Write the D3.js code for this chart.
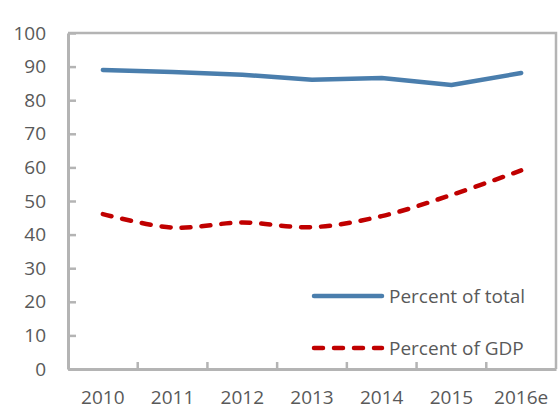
<!DOCTYPE html>
<html>
<head>
<meta charset="utf-8">
<script src="https://cdn.jsdelivr.net/npm/d3@7"></script>
<style>
  body { margin: 0; background: #fff; }
  text { font-family: "Open Sans", sans-serif; fill: #595959; }
</style>
</head>
<body>
<div id="chart"></div>
<script>
(function() {
  var years = ["2010", "2011", "2012", "2013", "2014", "2015", "2016e"]
  var percentOfTotal = [89.0, 88.4, 87.6, 86.1, 86.6, 84.5, 88.1]
  var percentOfGdp = [46.1, 42.1, 43.6, 42.2, 45.5, 51.8, 59.1]
  var yTicks = [0, 10, 20, 30, 40, 50, 60, 70, 80, 90, 100]
  var seriesNames = ["Percent of total", "Percent of GDP"]

  var width = 558, height = 412
  var margin = { top: 33, left: 68, right: 2, bottom: 43 }

  var svg = d3.select("#chart")
    .append("svg")
    .attr("width", width)
    .attr("height", height)

  var x = d3.scaleBand().domain(years).range([margin.left, width - margin.right])
  var y = d3.scaleLinear().domain([0, 100]).range([height - margin.bottom, margin.top])

  var axisColor = "#b4b4b4"

  // box (top + right edges)
  svg.append("path")
    .attr("d", "M" + margin.left + "," + y(100) + "H" + (width - margin.right) + "V" + y(0))
    .attr("fill", "none")
    .attr("stroke", axisColor)
    .attr("stroke-width", 2.5)

  // y axis, ticks pointing inward
  var yAxis = d3.axisLeft(y).tickValues(yTicks).tickSizeInner(-8).tickSizeOuter(0).tickPadding(22)
  var gy = svg.append("g")
    .attr("transform", "translate(" + margin.left + ",0)")
    .call(yAxis)
  gy.selectAll("line, path").attr("stroke", axisColor).attr("stroke-width", 2.5)
  gy.selectAll("text").style("font-size", "19px").attr("fill", "#595959")
  gy.select(".domain").attr("stroke-width", 3)

  // x axis: labels centred in the bands, ticks on band boundaries
  var xAxis = d3.axisBottom(x).tickSize(0).tickPadding(22)
  var gx = svg.append("g")
    .attr("transform", "translate(0," + y(0) + ")")
    .call(xAxis)
  gx.select(".domain").attr("stroke", axisColor).attr("stroke-width", 3)
  gx.selectAll("text").style("font-size", "19px").attr("fill", "#595959")

  gx.selectAll(".bnd")
    .data(years.slice(1))
    .enter().append("line")
    .attr("class", "bnd")
    .attr("x1", function(d) { return x(d) })
    .attr("x2", function(d) { return x(d) })
    .attr("y1", 0)
    .attr("y2", -7)
    .attr("stroke", axisColor)
    .attr("stroke-width", 2.5)

  var cx = function(d, i) { return x(years[i]) + x.bandwidth() / 2 }

  var totalLine = d3.line().x(cx).y(function(d) { return y(d) })
  var gdpLine = d3.line().x(cx).y(function(d) { return y(d) }).curve(d3.curveCatmullRom.alpha(0.5))

  svg.append("path")
    .datum(percentOfTotal)
    .attr("d", totalLine)
    .attr("fill", "none")
    .attr("stroke", "#4a7ead")
    .attr("stroke-width", 4.5)
    .attr("stroke-linecap", "round")
    .attr("stroke-linejoin", "round")

  svg.append("path")
    .datum(percentOfGdp)
    .attr("d", gdpLine)
    .attr("fill", "none")
    .attr("stroke", "#c00000")
    .attr("stroke-width", 4.5)
    .attr("stroke-linecap", "round")
    .attr("stroke-dasharray", "9,11")

  // legend
  var legend = svg.append("g")
  var legendY = [296, 348]
  var legendColors = ["#4a7ead", "#c00000"]
  var legendDash = [null, "9,11"]

  seriesNames.forEach(function(name, i) {
    legend.append("line")
      .attr("x1", 314).attr("x2", 382)
      .attr("y1", legendY[i]).attr("y2", legendY[i])
      .attr("stroke", legendColors[i])
      .attr("stroke-width", 4.5)
      .attr("stroke-linecap", "round")
      .attr("stroke-dasharray", legendDash[i])
    legend.append("text")
      .attr("x", 389)
      .attr("y", legendY[i])
      .attr("dy", "0.35em")
      .style("font-size", "19px")
      .text(name)
  })
})();
</script>
</body>
</html>
